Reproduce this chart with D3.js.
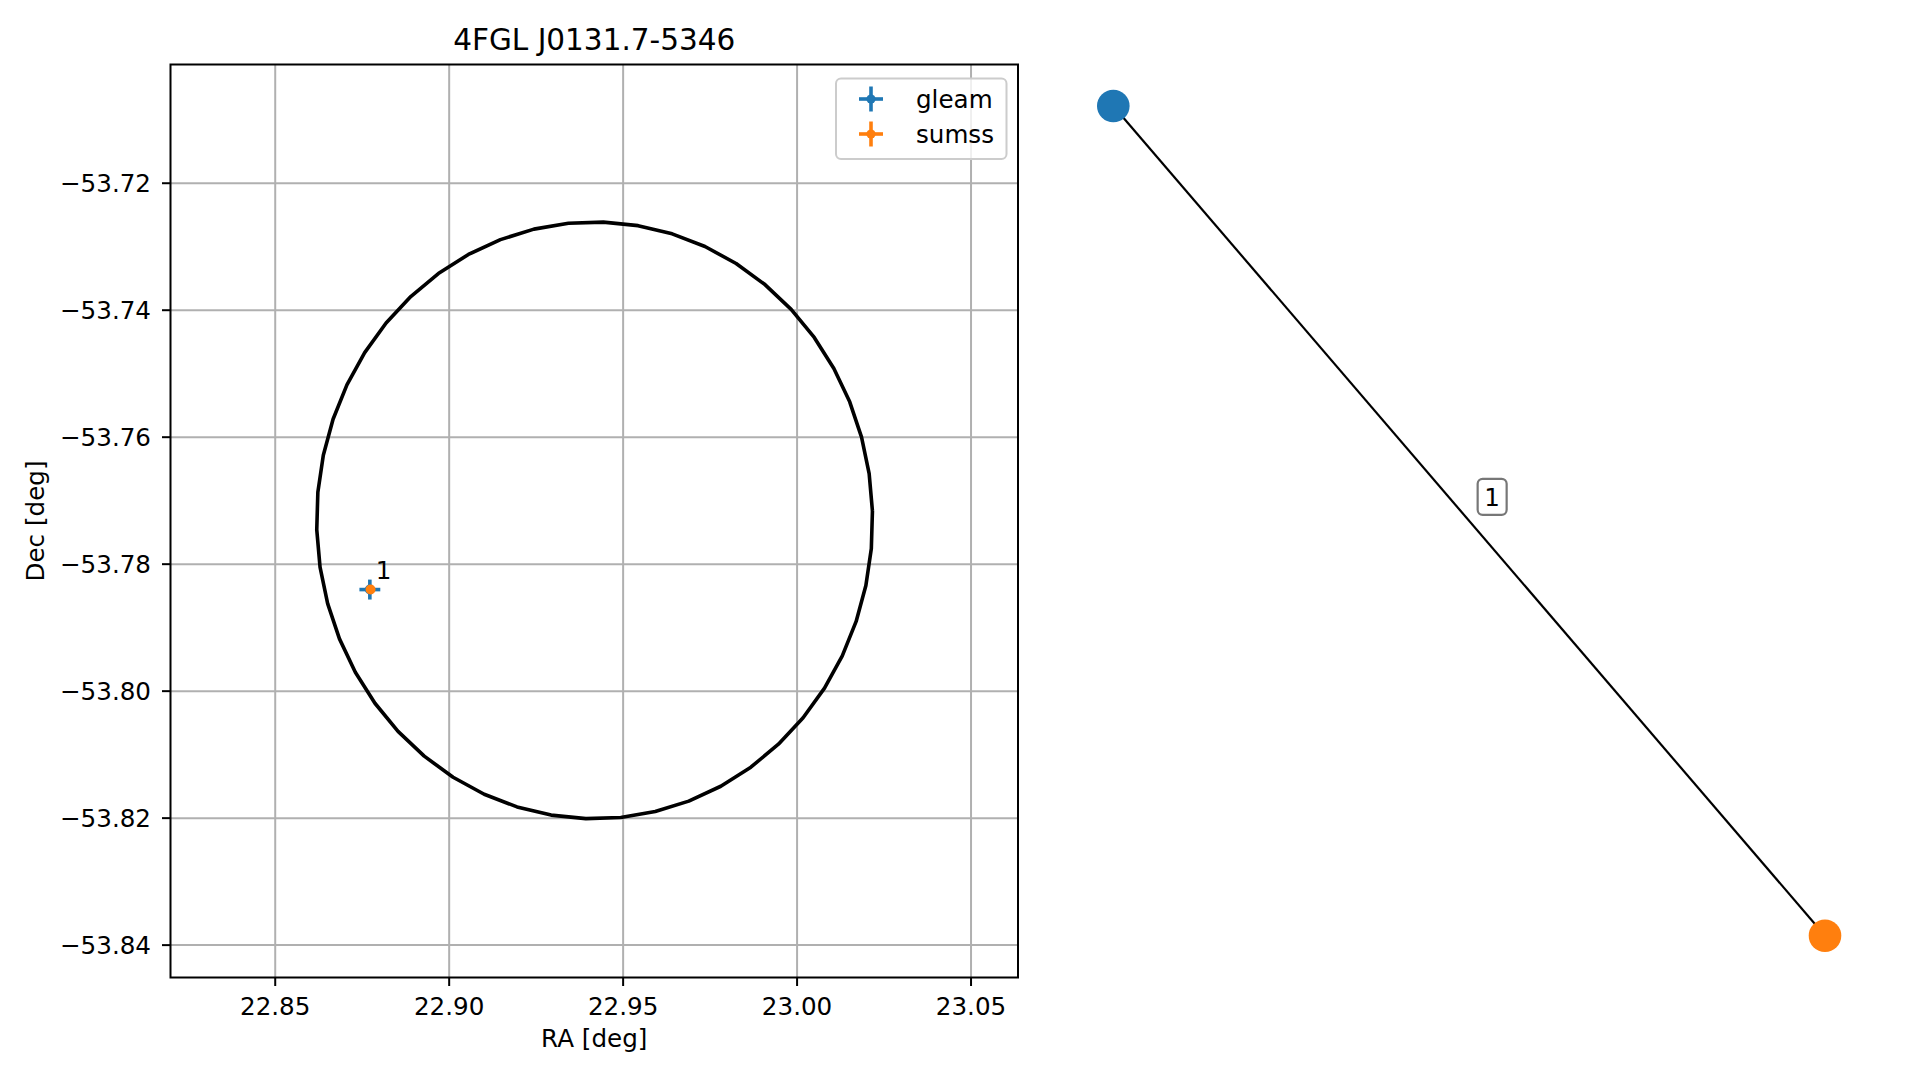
<!DOCTYPE html>
<html>
<head>
<meta charset="utf-8">
<script src="https://cdn.jsdelivr.net/npm/d3@7"></script>
<style>
  html, body { margin: 0; padding: 0; background: #ffffff; }
  svg { display: block; font-family: "DejaVu Sans", sans-serif; }
</style>
</head>
<body>
<svg id="chart" width="1919" height="1080"></svg>
<script>
// ---------------- data ----------------
const chartTitle = "4FGL J0131.7-5346";
const xLabel = "RA [deg]";
const yLabel = "Dec [deg]";

const raTicks = [22.85, 22.90, 22.95, 23.00, 23.05];
const decTicks = [-53.72, -53.74, -53.76, -53.78, -53.80, -53.82, -53.84];
const raLimits = [22.8199, 23.0635];
const decLimits = [-53.8451, -53.7013];

// 4FGL localisation region (sky circle drawn as a 50-vertex polygon)
const regionCenter = [22.9418, -53.7731];
const regionRadii = [0.0799, 0.0470];   // [RA, Dec] in deg
const regionVertices = 50;
const regionStartAngle = 1.8;            // deg, first vertex

// catalogue sources
const sourceNames = ["gleam", "sumss"];
const sourceRA = [22.8772, 22.8774];
const sourceDec = [-53.7840, -53.7840];
const sourceErrRA = [0.0030, 0.0012];
const sourceErrDec = [0.00157, 0.0006];
const matchLabels = ["1"];
const matchRA = [22.8772];
const matchDec = [-53.7840];

// association graph
const graphNodes = ["gleam", "sumss"];
const graphPosX = [-1, 1];
const graphPosY = [1, -1];
const graphEdges = [["gleam", "sumss", "1"]];

// ---------------- style ----------------
const colors = { gleam: "#1f77b4", sumss: "#ff7f0e" };
const FS = 24.6, TFS = 29.5;
const fmtTick = v => (v < 0 ? "\u2212" : "") + Math.abs(v).toFixed(2);

// ---------------- layout ----------------
const svg = d3.select("#chart");
const ax = { left: 170.5, right: 1018, top: 64.5, bottom: 977.5 };

const x = d3.scaleLinear().domain(raLimits).range([ax.left, ax.right]);
const y = d3.scaleLinear().domain(decLimits).range([ax.bottom, ax.top]);

svg.append("rect").attr("width", 1919).attr("height", 1080).attr("fill", "#fff");

const defs = svg.append("defs");
defs.append("clipPath").attr("id", "axclip")
  .append("rect").attr("x", ax.left).attr("y", ax.top)
  .attr("width", ax.right - ax.left).attr("height", ax.bottom - ax.top);

// grid
const grid = svg.append("g").attr("clip-path", "url(#axclip)");
grid.selectAll("line.gx").data(raTicks).enter().append("line")
  .attr("x1", d => x(d)).attr("x2", d => x(d))
  .attr("y1", ax.top).attr("y2", ax.bottom)
  .attr("stroke", "#b0b0b0").attr("stroke-width", 2);
grid.selectAll("line.gy").data(decTicks).enter().append("line")
  .attr("y1", d => y(d)).attr("y2", d => y(d))
  .attr("x1", ax.left).attr("x2", ax.right)
  .attr("stroke", "#b0b0b0").attr("stroke-width", 2);

// region polygon
const regionPts = d3.range(regionVertices + 1).map(i => {
  const t = (regionStartAngle + 360 * i / regionVertices) * Math.PI / 180;
  return [regionCenter[0] + regionRadii[0] * Math.cos(t),
          regionCenter[1] + regionRadii[1] * Math.sin(t)];
});
const plot = svg.append("g").attr("clip-path", "url(#axclip)");
plot.append("path")
  .attr("d", d3.line().x(d => x(d[0])).y(d => y(d[1]))(regionPts))
  .attr("fill", "none").attr("stroke", "#000").attr("stroke-width", 3.6)
  .attr("stroke-linejoin", "round");

// error bars + markers
sourceNames.forEach((n, i) => {
  const g = plot.append("g");
  const cx = x(sourceRA[i]), cy = y(sourceDec[i]);
  g.append("line")
    .attr("x1", x(sourceRA[i] - sourceErrRA[i])).attr("x2", x(sourceRA[i] + sourceErrRA[i]))
    .attr("y1", cy).attr("y2", cy)
    .attr("stroke", colors[n]).attr("stroke-width", 3.6);
  g.append("line")
    .attr("x1", cx).attr("x2", cx)
    .attr("y1", y(sourceDec[i] - sourceErrDec[i])).attr("y2", y(sourceDec[i] + sourceErrDec[i]))
    .attr("stroke", colors[n]).attr("stroke-width", 3.6);
  g.append("circle").attr("cx", cx).attr("cy", cy).attr("r", 5).attr("fill", colors[n]);
});

// match labels
plot.selectAll("text.match").data(matchLabels).enter().append("text")
  .attr("x", (d, i) => x(matchRA[i]) + 6)
  .attr("y", (d, i) => y(matchDec[i]) - 10.3)
  .attr("font-size", FS).attr("fill", "#000").text(d => d);

// frame
svg.append("rect").attr("x", ax.left).attr("y", ax.top)
  .attr("width", ax.right - ax.left).attr("height", ax.bottom - ax.top)
  .attr("fill", "none").attr("stroke", "#000").attr("stroke-width", 2);

// x ticks
const xt = svg.append("g");
xt.selectAll("line").data(raTicks).enter().append("line")
  .attr("x1", d => x(d)).attr("x2", d => x(d))
  .attr("y1", ax.bottom).attr("y2", ax.bottom + 8.5)
  .attr("stroke", "#000").attr("stroke-width", 2);
xt.selectAll("text").data(raTicks).enter().append("text")
  .attr("x", d => x(d)).attr("y", ax.bottom + 37)
  .attr("text-anchor", "middle").attr("font-size", FS).attr("fill", "#000")
  .text(fmtTick);

// y ticks
const yt = svg.append("g");
yt.selectAll("line").data(decTicks).enter().append("line")
  .attr("y1", d => y(d)).attr("y2", d => y(d))
  .attr("x1", ax.left - 8.5).attr("x2", ax.left)
  .attr("stroke", "#000").attr("stroke-width", 2);
yt.selectAll("text").data(decTicks).enter().append("text")
  .attr("x", 151).attr("y", d => y(d) + 9)
  .attr("text-anchor", "end").attr("font-size", FS).attr("fill", "#000")
  .text(fmtTick);

// labels and title
svg.append("text").attr("x", (ax.left + ax.right) / 2).attr("y", 1047)
  .attr("text-anchor", "middle").attr("font-size", FS).text(xLabel);
svg.append("text")
  .attr("transform", `translate(44,${(ax.top + ax.bottom) / 2}) rotate(-90)`)
  .attr("text-anchor", "middle").attr("font-size", FS).text(yLabel);
svg.append("text").attr("x", (ax.left + ax.right) / 2).attr("y", 50)
  .attr("text-anchor", "middle").attr("font-size", TFS).text(chartTitle);

// legend
const lg = svg.append("g");
lg.append("rect").attr("x", 836).attr("y", 78.5).attr("width", 170.5).attr("height", 80.5)
  .attr("rx", 5).attr("fill", "#fff").attr("fill-opacity", 0.8)
  .attr("stroke", "#cccccc").attr("stroke-width", 2);
sourceNames.forEach((n, i) => {
  const cy = 99 + i * 35, cx = 871;
  lg.append("line").attr("x1", cx - 12).attr("x2", cx + 12).attr("y1", cy).attr("y2", cy)
    .attr("stroke", colors[n]).attr("stroke-width", 3.6);
  lg.append("line").attr("x1", cx).attr("x2", cx).attr("y1", cy - 12.5).attr("y2", cy + 12.5)
    .attr("stroke", colors[n]).attr("stroke-width", 3.6);
  lg.append("circle").attr("cx", cx).attr("cy", cy).attr("r", 4.6).attr("fill", colors[n]);
  lg.append("text").attr("x", 916).attr("y", cy + 8.5).attr("font-size", FS).text(n);
});

// ---------------- association graph ----------------
const gx = d3.scaleLinear().domain([-1, 1]).range([1113.3, 1825]);
const gy = d3.scaleLinear().domain([-1, 1]).range([935.7, 106]);
const nodePos = {};
graphNodes.forEach((n, i) => { nodePos[n] = [gx(graphPosX[i]), gy(graphPosY[i])]; });

const gg = svg.append("g");
graphEdges.forEach(e => {
  const a = nodePos[e[0]], b = nodePos[e[1]];
  gg.append("line").attr("x1", a[0]).attr("y1", a[1]).attr("x2", b[0]).attr("y2", b[1])
    .attr("stroke", "#000").attr("stroke-width", 2.2);
});
graphNodes.forEach(n => {
  gg.append("circle").attr("cx", nodePos[n][0]).attr("cy", nodePos[n][1]).attr("r", 16.3)
    .attr("fill", colors[n]);
});
graphEdges.forEach(e => {
  const a = nodePos[e[0]], b = nodePos[e[1]];
  const mx = (a[0] + b[0]) / 2 + 23, my = (a[1] + b[1]) / 2 - 24;
  gg.append("rect").attr("x", mx - 14.5).attr("y", my - 18).attr("width", 29).attr("height", 36)
    .attr("rx", 5).attr("fill", "#fff").attr("stroke", "#777777").attr("stroke-width", 2.2);
  gg.append("text").attr("x", mx).attr("y", my + 9).attr("text-anchor", "middle")
    .attr("font-size", FS).text(e[2]);
});
</script>
</body>
</html>
